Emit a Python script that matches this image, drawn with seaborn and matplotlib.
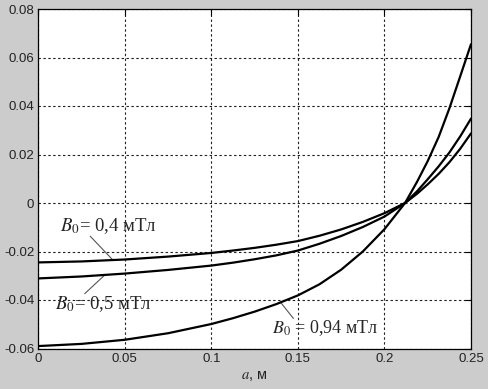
import numpy as np
import pandas as pd
import seaborn as sns
import matplotlib
matplotlib.use("Agg")
import matplotlib.pyplot as plt
from matplotlib.ticker import FixedLocator, FixedFormatter

# ---- data ----
a_vals = [0, 0.025, 0.05, 0.075, 0.1, 0.1125, 0.125, 0.1375, 0.15, 0.1625, 0.175,
          0.1875, 0.2, 0.2119, 0.2188, 0.225, 0.2313, 0.2375, 0.2438, 0.25]
b04 = [-0.0245, -0.0241, -0.0233, -0.0221, -0.0206, -0.0196, -0.0185, -0.0172,
       -0.0157, -0.0135, -0.0109, -0.0078, -0.0042, 0.0,
       0.0038, 0.0077, 0.0120, 0.0168, 0.0224, 0.0287]
b05 = [-0.0311, -0.0303, -0.0291, -0.0276, -0.0258, -0.0246, -0.0232, -0.0216,
       -0.0196, -0.0168, -0.0136, -0.0099, -0.0056, 0.0,
       0.0048, 0.0098, 0.0151, 0.0208, 0.0275, 0.0348]
b094 = [-0.0590, -0.0581, -0.0564, -0.0537, -0.0499, -0.0475, -0.0448, -0.0417,
        -0.0381, -0.0335, -0.0275, -0.0200, -0.0108, 0.0,
        0.0087, 0.0173, 0.0272, 0.0390, 0.0523, 0.0655]

xticks = [0, 0.05, 0.1, 0.15, 0.2, 0.25]
xticklabels = ["0", "0.05", "0.1", "0.15", "0.2", "0.25"]
yticks = [-0.06, -0.04, -0.02, 0, 0.02, 0.04, 0.06, 0.08]
yticklabels = ["-0.06", "-0.04", "-0.02", "0", "0.02", "0.04", "0.06", "0.08"]

labels = [r"$B_0$= 0,4 мТл", r"$B_0$= 0,5 мТл", r"$B_0$ = 0,94 мТл"]
xlabel_text = r"$a$, м"

df = pd.DataFrame({"a": a_vals * 3,
                   "v": b04 + b05 + b094,
                   "s": ["0.4"] * len(a_vals) + ["0.5"] * len(a_vals) + ["0.94"] * len(a_vals)})

sns.set_style("white")
plt.rcParams["font.family"] = ["Liberation Sans", "DejaVu Sans"]
plt.rcParams["mathtext.fontset"] = "stix"

bg = "#cccccc"
fig = plt.figure(figsize=(4.89, 3.89), dpi=100, facecolor=bg)
ax = fig.add_axes([38.3 / 489, 1 - 348.5 / 389, (471 - 38.3) / 489, (348.5 - 9) / 389])
ax.set_facecolor("white")

sns.lineplot(data=df, x="a", y="v", hue="s", palette=["black"] * 3,
             linewidth=1.6, legend=False, ax=ax, zorder=3)

ax.set_xlim(0, 0.25)
ax.set_ylim(-0.06, 0.08)
ax.xaxis.set_major_locator(FixedLocator(xticks))
ax.xaxis.set_major_formatter(FixedFormatter(xticklabels))
ax.yaxis.set_major_locator(FixedLocator(yticks))
ax.yaxis.set_major_formatter(FixedFormatter(yticklabels))
ax.tick_params(direction="in", length=4, width=0.8, colors="black",
               labelsize=9.5, top=True, right=True, pad=3)
for lab in ax.get_xticklabels() + ax.get_yticklabels():
    lab.set_color("#222222")

ax.grid(True, color="#222222", linestyle=(0, (2.2, 2.2)), linewidth=0.8)
ax.set_axisbelow(True)
for sp in ax.spines.values():
    sp.set_visible(True)
    sp.set_color("black")
    sp.set_linewidth(0.9)

ax.set_xlabel(xlabel_text, fontsize=10.5, labelpad=3, color="#222222")
ax.set_ylabel("")

serif = ["Liberation Serif", "DejaVu Serif"]
fs = 13.5
ax.text(0.0128, -0.0117, labels[0], fontsize=fs, family=serif, ha="left", va="baseline")
ax.plot([0.0300, 0.0432], [-0.0137, -0.0236], color="#555555", lw=0.8, zorder=2)
ax.text(0.0099, -0.0438, labels[1], fontsize=fs, family=serif, ha="left", va="baseline")
ax.plot([0.0268, 0.0384], [-0.0374, -0.0297], color="#555555", lw=0.8, zorder=2)
ax.text(0.1350, -0.0538, labels[2], fontsize=fs - 0.5, family=serif, ha="left", va="baseline")
ax.plot([0.1474, 0.1398], [-0.0476, -0.0408], color="#555555", lw=0.8, zorder=2)

fig.savefig("out.png", dpi=100, facecolor=bg)
